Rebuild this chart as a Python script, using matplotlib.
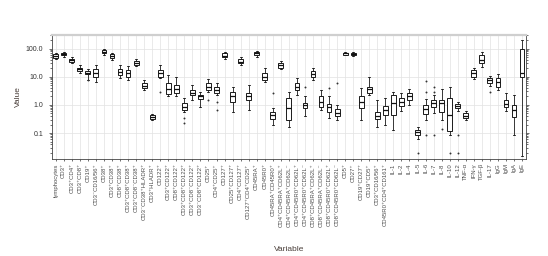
import numpy as np
import matplotlib
matplotlib.use('Agg')
import matplotlib.pyplot as plt
from matplotlib.ticker import FixedLocator, LogLocator, NullFormatter

plt.rcParams['font.family'] = ['Liberation Sans', 'DejaVu Sans']

# ─── Data ───────────────────────────────────────────────────────────────────
variables = [
    "lymphocytes", "CD3⁺", "CD3⁺CD4⁺", "CD3⁺CD8⁺", "CD19⁺", "CD3⁻CD16/56⁺",
    "CD38⁺", "CD3⁺CD38⁺", "CD8⁺CD38⁺", "CD3⁺CD8⁺CD38⁺", "CD3⁺CD8⁻CD38⁺",
    "CD3⁻CD38⁺HLADR⁺", "CD3⁺HLADR⁺", "CD122⁺", "CD3⁺CD122⁺", "CD8⁺CD122⁺",
    "CD3⁺CD8⁺CD122⁺", "CD3⁺CD8⁻CD122⁺", "CD3⁻CD8⁺CD122⁺", "CD25⁺", "CD4⁺CD25⁺",
    "CD127⁺", "CD25⁺CD127⁺", "CD4⁺CD127⁺", "CD127⁺CD4⁺CD25⁺", "CD45RA⁺",
    "CD45R0⁺", "CD45RA⁺CD45R0⁺", "CD4⁺CD45RA⁺CD62L⁺", "CD4⁺CD45RA⁺CD62L⁻",
    "CD4⁺CD45R0⁺CD62L⁺", "CD4⁺CD45R0⁺CD62L⁻", "CD8⁺CD45RA⁺CD62L⁺",
    "CD8⁺CD45RA⁺CD62L⁻", "CD8⁺CD45R0⁺CD62L⁺", "CD8⁺CD45R0⁺CD62L⁻", "CD5⁺",
    "CD27⁺", "CD19⁺CD27⁺", "CD19⁺CD5⁺", "CD3⁺CD16/56⁺", "CD45R0⁺CD4⁺CD161⁺",
    "IL-1", "IL-2", "IL-4", "IL-5", "IL-6", "IL-7", "IL-8", "IL-10", "IL-12",
    "TNF-α", "IFN-γ", "TGF-β", "IL-17", "IgG", "IgM", "IgA", "IgE",
]

median = [54, 63, 39, 18, 14, 13, 76, 54, 15, 13, 30, 4.7, 0.37, 13, 3.6, 3.6,
          0.87, 2.7, 2.0, 4.4, 3.4, 55, 2.0, 34, 2.0, 67, 10, 0.44, 26, 0.76,
          4.4, 1.0, 12, 1.3, 0.83, 0.53, 67, 63, 1.3, 3.6, 0.41, 0.67, 1.15,
          1.3, 2.0, 0.11, 0.70, 1.2, 1.2, 0.44, 0.92, 0.41, 13, 39, 7.6, 6.7,
          1.08, 0.67, 13]
q1 = [47, 57, 34, 16, 12, 9.5, 67, 47, 11.5, 10, 25, 3.9, 0.31, 10, 2.45, 2.6,
      0.67, 2.25, 1.6, 3.4, 2.7, 48, 1.3, 30, 1.5, 58, 7.6, 0.31, 21, 0.30,
      3.4, 0.76, 9.5, 0.83, 0.58, 0.41, 61, 57, 0.76, 2.7, 0.31, 0.44, 0.44,
      0.92, 1.5, 0.085, 0.48, 0.87, 0.58, 0.12, 0.76, 0.34, 9.7, 30, 5.8, 4.3,
      0.83, 0.37, 10]
q3 = [62, 71, 44, 21, 16, 18, 88, 62, 18, 17, 36, 5.8, 0.44, 17, 5.8, 5.1,
      1.15, 3.4, 2.25, 5.8, 4.2, 67, 2.9, 41, 2.6, 76, 13, 0.58, 31, 1.7,
      5.8, 1.2, 16, 2.0, 1.08, 0.70, 72, 71, 2.0, 4.4, 0.58, 0.92, 2.25,
      1.7, 2.6, 0.13, 1.0, 1.5, 1.5, 1.8, 1.06, 0.51, 17, 58, 8.8, 9.0,
      1.5, 1.0, 100]
whisk_lo = [41, 51, 30, 14, 7.6, 6.7, 58, 39, 8.8, 7.6, 23, 3.4, 0.28, 8.8, 2.0,
            2.0, 0.58, 1.5, 0.87, 2.9, 2.25, 44, 0.58, 26, 0.67, 52, 6.7, 0.20,
            18, 0.17, 2.25, 0.39, 7.6, 0.67, 0.34, 0.30, 57, 54, 0.30, 2.25,
            0.17, 0.20, 0.13, 0.6, 1.0, 0.06, 0.3, 0.5, 0.3, 0.087, 0.6, 0.3,
            8.0, 22, 4.5, 3.5, 0.6, 0.087, 0.015]
whisk_hi = [67, 76, 51, 26, 18, 26, 100, 71, 26, 24, 44, 7.6, 0.48, 26, 11.5,
            10, 1.7, 5.1, 2.9, 8.1, 5.8, 76, 4.4, 51, 5.1, 82, 20, 0.76, 36, 2.9,
            8.8, 2.0, 20, 3.4, 2.0, 1.0, 78, 76, 3.9, 10, 1.5, 1.7, 2.9, 2.6,
            3.6, 0.16, 1.6, 2.2, 3.6, 4.2, 1.3, 0.6, 20, 76, 11, 12, 2.6, 2.2,
            200]

# outlying points: (variable index, value)
outliers = [(4, 7.6), (13, 2.9), (16, 0.34), (16, 0.23), (19, 1.5), (20, 1.3),
            (20, 0.67), (27, 2.6), (31, 4.2), (34, 3.9), (35, 5.8), (45, 0.02),
            (46, 7.2), (46, 2.9), (46, 0.087), (47, 4.3), (47, 2.9), (47, 0.087),
            (48, 0.14), (49, 0.02), (50, 0.087), (50, 0.02), (54, 2.9)]

assert len(variables) == 59

# ─── Build box stats ────────────────────────────────────────────────────────
stats = []
for i, name in enumerate(variables):
    stats.append(dict(label=name, med=median[i], q1=q1[i], q3=q3[i],
                      whislo=whisk_lo[i], whishi=whisk_hi[i],
                      fliers=[v for k, v in outliers if k == i]))

fig = plt.figure(figsize=(5.48, 2.56), dpi=100)
ax = fig.add_axes([0.0943, 0.379, 0.8657, 0.484])

pos = np.arange(len(variables))
ax.bxp(stats, positions=pos, widths=0.6, patch_artist=True,
       boxprops=dict(facecolor='white', edgecolor='#1a1a1a', linewidth=0.7),
       medianprops=dict(color='#111111', linewidth=0.9),
       whiskerprops=dict(color='#1a1a1a', linewidth=0.6),
       capprops=dict(color='#1a1a1a', linewidth=0.6),
       capwidths=0.25,
       flierprops=dict(marker='o', markersize=1.4, markerfacecolor='#333333',
                       markeredgecolor='none'))

ax.set_yscale('log')
ax.set_ylim(0.012, 300)
ax.set_xlim(-0.5, len(variables) - 0.5)

ax.yaxis.set_major_locator(FixedLocator([0.1, 1, 10, 100]))
ax.set_yticklabels(['0.1', '1.0', '10.0', '100.0'])
ax.yaxis.set_minor_locator(LogLocator(base=10, subs=np.arange(2, 10)))
ax.yaxis.set_minor_formatter(NullFormatter())

ax.set_xticks(pos)
ax.set_xticklabels(variables, rotation=90, fontsize=4.3, color='#4d4d4d')
ax.tick_params(axis='y', which='major', labelsize=5, length=2.5, width=0.5,
               colors='#333333', right=True)
ax.tick_params(axis='y', which='minor', length=1.3, width=0.4, right=True)
ax.tick_params(axis='x', length=1.5, width=0.4, pad=1.5)

ax.grid(True, axis='x', color='#e2e2e2', linewidth=0.5, zorder=0)
ax.grid(True, axis='y', which='major', color='#e2e2e2', linewidth=0.5, zorder=0)
ax.set_axisbelow(True)

for side in ['left', 'bottom', 'right']:
    ax.spines[side].set_color('#444444')
    ax.spines[side].set_linewidth(0.6)
ax.spines['top'].set_color('#cfcfcf')
ax.spines['top'].set_linewidth(1.6)

ax.set_ylabel('Value', fontsize=6, color='#4a3f3a', labelpad=3)
fig.text(0.527, 0.025, 'Variable', ha='center', va='center', fontsize=6,
         color='#4a3f3a')

fig.savefig('out.png', dpi=100)
